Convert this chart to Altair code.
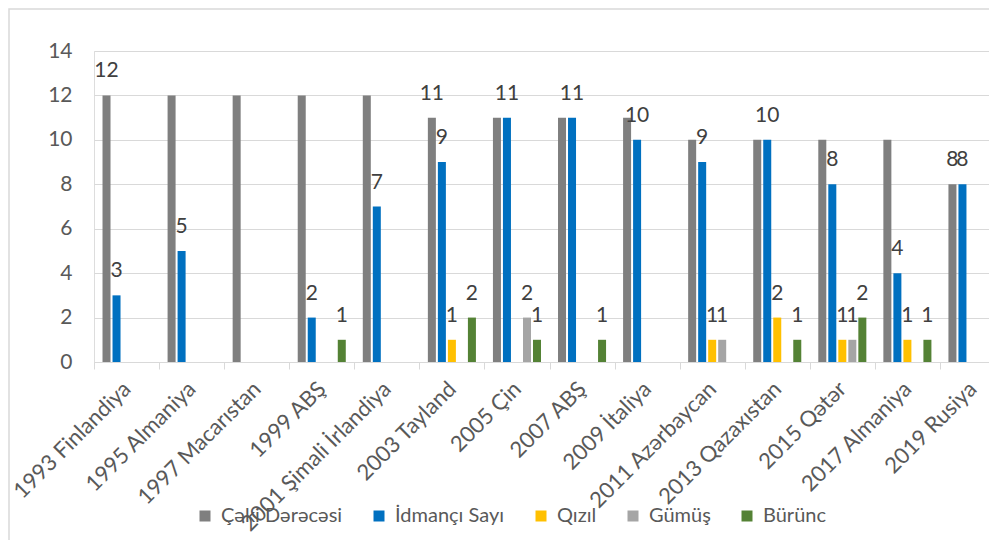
import altair as alt
import pandas as pd

categories = ["1993 Finlandiya", "1995 Almaniya", "1997 Macarıstan", "1999 ABŞ",
              "2001 Şimali İrlandiya", "2003 Tayland", "2005 Çin", "2007 ABŞ",
              "2009 İtaliya", "2011 Azərbaycan", "2013 Qazaxıstan", "2015 Qətər",
              "2017 Almaniya", "2019 Rusiya"]
series = ["Çəki Dərəcəsi", "İdmançı Sayı", "Qızıl", "Gümüş", "Bürünc"]
colors = ["#7f7f7f", "#0070c0", "#ffc000", "#a5a5a5", "#548235"]

ceki = [12, 12, 12, 12, 12, 11, 11, 11, 11, 10, 10, 10, 10, 8]
idmanci = [3, 5, None, 2, 7, 9, 11, 11, 10, 9, 10, 8, 4, 8]
qizil = [None, None, None, None, None, 1, None, None, None, 1, 2, 1, 1, None]
gumus = [None, None, None, None, None, None, 2, None, None, 1, None, 1, None, None]
burunc = [None, None, None, 1, None, 2, 1, 1, None, None, 1, 2, 1, None]
# data labels of the weight-class series are shown only for these categories
ceki_labelled = ["1993 Finlandiya", "2003 Tayland", "2019 Rusiya"]

values = [ceki, idmanci, qizil, gumus, burunc]
rows = []
for s, vals in zip(series, values):
    for c, v in zip(categories, vals):
        if v is None:
            continue
        show = (s != series[0]) or (c in ceki_labelled)
        rows.append({"cat": c, "series": s, "value": v,
                     "label": str(v) if show else ""})
df = pd.DataFrame(rows)

W, H = 895, 311
FONT = "Lato"

x_enc = alt.X("cat:N", sort=categories,
              scale=alt.Scale(range=[0, 911], paddingInner=0, paddingOuter=0),
              axis=alt.Axis(title=None, labelAngle=315, labelAlign="right",
                            labelBaseline="middle", labelFontSize=22,
                            labelColor="#595959", labelPadding=16, labelLimit=300,
                            tickBand="extent", tickSize=7, tickColor="#d9d9d9",
                            domainColor="#d9d9d9", grid=False, labelFont=FONT))
xo_enc = alt.XOffset("series:N",
                     scale=alt.Scale(domain=series, paddingInner=0.2, paddingOuter=0.85))
y_enc = alt.Y("value:Q",
              scale=alt.Scale(domain=[0, 14], nice=False),
              axis=alt.Axis(title=None, values=[0, 2, 4, 6, 8, 10, 12, 14],
                            labelFontSize=21, labelColor="#595959", labelPadding=22,
                            ticks=False, domain=False, gridColor="#d9d9d9",
                            labelFont=FONT))

bars = alt.Chart(df).mark_bar().encode(
    x=x_enc, xOffset=xo_enc, y=y_enc,
    color=alt.Color("series:N",
                    scale=alt.Scale(domain=series, range=colors),
                    legend=alt.Legend(title=None, orient="none", direction="horizontal",
                                      legendX=101, legendY=455, symbolType="square",
                                      symbolSize=121, symbolStrokeWidth=0,
                                      labelFontSize=20, labelColor="#595959",
                                      labelFont=FONT, columnPadding=26,
                                      labelOffset=6, labelLimit=300, padding=0)),
)

labels = alt.Chart(df).mark_text(baseline="alphabetic", dy=-18, fontSize=21,
                                 color="#404040", font=FONT).encode(
    x=alt.X("cat:N", sort=categories), xOffset=alt.XOffset("series:N"),
    y=alt.Y("value:Q"), text=alt.Text("label:N"),
)

border = alt.Chart(alt.Data(values=[{}])).mark_rect(
    filled=False, stroke="#d9d9d9", strokeWidth=1.5).encode(
    x=alt.value(-85), x2=alt.value(1200), y=alt.value(-42), y2=alt.value(800))

chart = alt.layer(border, bars, labels).properties(
    width=W, height=H,
    autosize=alt.AutoSizeParams(type="none"),
    padding={"left": 86, "top": 43, "right": 0, "bottom": 178},
).configure_view(stroke=None).configure(font=FONT)

chart.save("out.html", embed_options={"renderer": "svg", "actions": False})
